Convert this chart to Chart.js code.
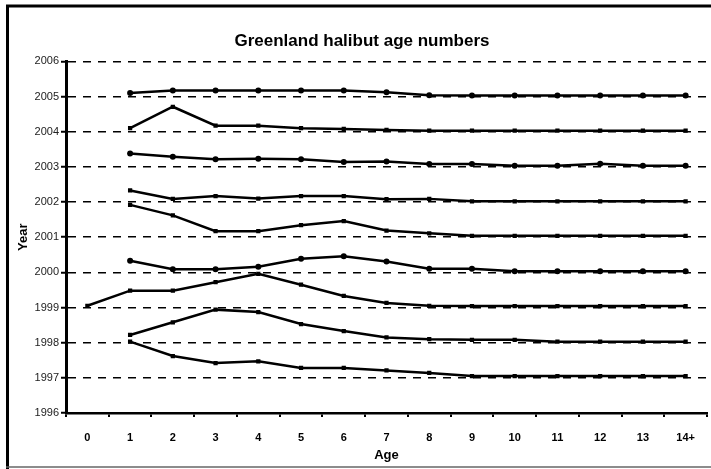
<!DOCTYPE html>
<html>
<head>
<meta charset="utf-8">
<script src="https://cdn.jsdelivr.net/npm/chart.js@4"></script>
<style>
  html, body { margin: 0; padding: 0; background: #fff; }
  #wrap { width: 711px; height: 469px; }
</style>
</head>
<body>
<div id="wrap"><canvas id="myChart" width="711" height="469"></canvas></div>
<script>
const ages = ["0", "1", "2", "3", "4", "5", "6", "7", "8", "9", "10", "11", "12", "13", "14+"];

// each year's line sits at year + scaled age number
const y2005 = [null, 2005.10, 2005.17, 2005.17, 2005.17, 2005.17, 2005.17, 2005.12, 2005.04, 2005.03, 2005.03, 2005.03, 2005.03, 2005.03, 2005.03];
const y2004 = [null, 2004.10, 2004.71, 2004.17, 2004.17, 2004.10, 2004.08, 2004.05, 2004.03, 2004.03, 2004.03, 2004.03, 2004.03, 2004.03, 2004.03];
const y2003 = [null, 2003.38, 2003.29, 2003.22, 2003.23, 2003.22, 2003.14, 2003.15, 2003.08, 2003.08, 2003.03, 2003.03, 2003.09, 2003.03, 2003.03];
const y2002 = [null, 2002.33, 2002.09, 2002.17, 2002.10, 2002.17, 2002.17, 2002.08, 2002.09, 2002.02, 2002.02, 2002.02, 2002.02, 2002.02, 2002.02];
const y2001 = [null, 2001.92, 2001.62, 2001.17, 2001.17, 2001.34, 2001.46, 2001.19, 2001.11, 2001.04, 2001.04, 2001.04, 2001.04, 2001.04, 2001.04];
const y2000 = [null, 2000.33, 2000.09, 2000.09, 2000.16, 2000.39, 2000.46, 2000.31, 2000.10, 2000.10, 2000.03, 2000.03, 2000.03, 2000.03, 2000.03];
const y1999 = [1999.05, 1999.48, 1999.48, 1999.72, 1999.96, 1999.65, 1999.33, 1999.13, 1999.05, 1999.04, 1999.04, 1999.04, 1999.04, 1999.04, 1999.04];
const y1998 = [null, 1998.22, 1998.58, 1998.94, 1998.87, 1998.53, 1998.33, 1998.15, 1998.10, 1998.08, 1998.08, 1998.03, 1998.03, 1998.03, 1998.03];
const y1997 = [null, 1998.03, 1997.62, 1997.42, 1997.47, 1997.28, 1997.28, 1997.21, 1997.14, 1997.05, 1997.05, 1997.05, 1997.05, 1997.05, 1997.05];

const seriesNames = ["2005", "2004", "2003", "2002", "2001", "2000", "1999", "1998", "1997"];
const seriesData = [y2005, y2004, y2003, y2002, y2001, y2000, y1999, y1998, y1997];
const markerStyles = ['circle', 'rect', 'circle', 'rect', 'rect', 'circle', 'rect', 'rect', 'rect'];

const yMin = 1996;
const yMax = 2006;

const frame = {
    id: 'frame',
    afterDraw(chart) {
        const c = chart.ctx;
        c.save();
        c.strokeStyle = '#000';
        c.lineWidth = 3;
        c.beginPath();
        c.moveTo(7.5, 470);
        c.lineTo(7.5, 6);
        c.lineTo(720, 6);
        c.stroke();
        c.strokeStyle = '#666';
        c.lineWidth = 1.5;
        c.beginPath();
        c.moveTo(6, 467);
        c.lineTo(720, 467);
        c.stroke();
        c.restore();
    }
};

const ctx = document.getElementById('myChart').getContext('2d');
const myChart = new Chart(ctx, {
    type: 'line',
    data: {
        labels: ages,
        datasets: seriesNames.map((name, i) => ({
            label: name,
            data: seriesData[i],
            borderColor: '#000',
            backgroundColor: '#000',
            borderWidth: 2.5,
            pointStyle: markerStyles[i],
            pointRadius: 3,
            pointBorderWidth: 0,
            tension: 0,
            fill: false
        }))
    },
    options: {
        responsive: false,
        animation: { duration: 0 },
        layout: { padding: { left: 16, right: 3, top: 0, bottom: 0 } },
        plugins: {
            legend: { display: false },
            tooltip: { enabled: false },
            title: {
                display: true,
                text: 'Greenland halibut age numbers',
                color: '#000',
                font: { family: "'Liberation Sans', Arial, sans-serif", size: 17, weight: 'bold' },
                padding: { top: 31, bottom: 10 }
            }
        },
        scales: {
            x: {
                offset: true,
                afterFit: (s) => { s.height = 56; },
                border: { display: true, color: '#000', width: 2.5 },
                grid: {
                    offset: true,
                    drawOnChartArea: false,
                    drawTicks: true,
                    tickLength: 4,
                    color: '#000',
                    lineWidth: 2
                },
                ticks: {
                    color: '#000',
                    padding: 14,
                    maxRotation: 0,
                    font: { family: "'Liberation Sans Narrow', 'Liberation Sans', Arial, sans-serif", size: 11, weight: 'bold' }
                },
                title: {
                    display: true,
                    text: 'Age',
                    color: '#000',
                    padding: { top: 0, bottom: 6 },
                    font: { family: "'Liberation Sans Narrow', 'Liberation Sans', Arial, sans-serif", size: 13, weight: 'bold' }
                }
            },
            y: {
                min: yMin,
                max: yMax,
                afterFit: (s) => { s.width = 50; },
                border: { display: true, color: '#000', width: 3, dash: [8, 7] },
                grid: {
                    color: '#000',
                    lineWidth: 1.5,
                    drawTicks: true,
                    tickLength: 5,
                    tickBorderDash: [],
                    tickWidth: 2
                },
                ticks: {
                    stepSize: 1,
                    color: '#222',
                    padding: 2,
                    callback: (v) => String(v),
                    font: { family: "'Liberation Sans Narrow', 'Liberation Sans', Arial, sans-serif", size: 11 }
                },
                title: {
                    display: true,
                    text: 'Year',
                    color: '#000',
                    padding: { top: 0, bottom: 2 },
                    font: { family: "'Liberation Sans Narrow', 'Liberation Sans', Arial, sans-serif", size: 13, weight: 'bold' }
                }
            }
        }
    },
    plugins: [frame]
});
</script>
</body>
</html>
